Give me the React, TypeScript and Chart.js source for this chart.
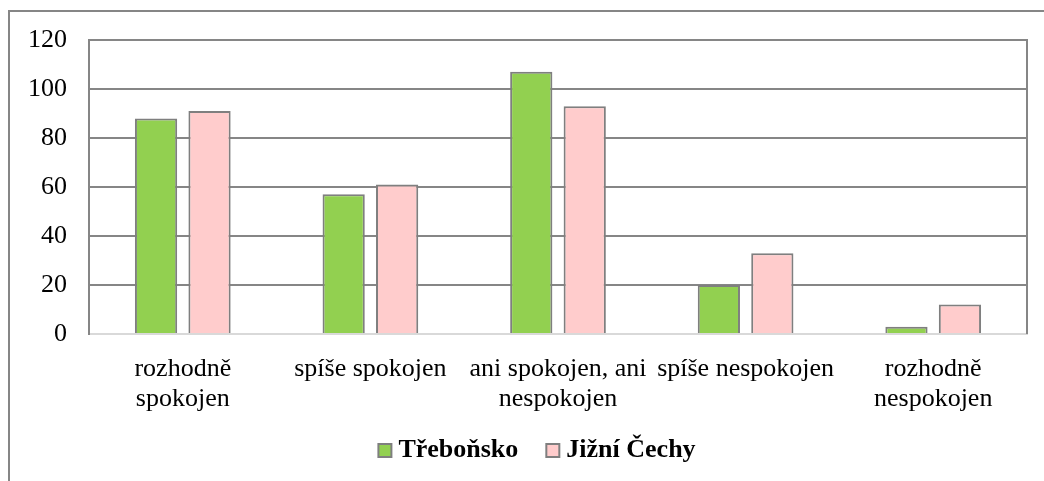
import React, { useEffect, useRef } from "react";
import { Chart, registerables } from "chart.js";

Chart.register(...registerables);

const categories: (string | string[])[] = [
  ["rozhodně", "spokojen"],
  "spíše spokojen",
  ["ani spokojen, ani", "nespokojen"],
  "spíše nespokojen",
  ["rozhodně", "nespokojen"],
];
const trebonskoValues = [88, 57, 107, 20, 3];
const jizniCechyValues = [91, 61, 93, 33, 12];
const seriesNames = ["Třeboňsko", "Jižní Čechy"];
const yTicks = [0, 20, 40, 60, 80, 100, 120];

const FONT = "Liberation Serif";
const GRID = "#868686";

const plotBorder = {
  id: "plotBorder",
  beforeDatasetsDraw(chart: any) {
    const { ctx, chartArea } = chart;
    ctx.save();
    ctx.strokeStyle = GRID;
    ctx.lineWidth = 2;
    ctx.beginPath();
    ctx.moveTo(chartArea.right, chartArea.top - 1);
    ctx.lineTo(chartArea.right, chartArea.bottom);
    ctx.stroke();
    ctx.restore();
  },
};

// Excel-like legend: small square, short gap, bold text, wide spacing between items
const excelLegend = {
  id: "excelLegend",
  afterDraw(chart: any, _args: any, opts: any) {
    const { ctx } = chart;
    const box = opts.box;
    const gap = opts.gap;
    const itemGap = opts.itemGap;
    ctx.save();
    ctx.font = `bold ${opts.fontSize}px '${FONT}'`;
    const items = chart.data.datasets.map((ds: any) => ({
      text: ds.label,
      fill: ds.backgroundColor,
      stroke: ds.borderColor,
      w: ctx.measureText(ds.label).width,
    }));
    const total =
      items.reduce((a: number, it: any) => a + box + gap + it.w, 0) + itemGap * (items.length - 1);
    let x = opts.centerX - total / 2;
    const baseline = opts.baseline;
    for (const it of items) {
      ctx.fillStyle = it.fill;
      ctx.fillRect(x, baseline - box, box, box);
      ctx.strokeStyle = it.stroke;
      ctx.lineWidth = 2;
      ctx.strokeRect(x, baseline - box, box, box);
      ctx.fillStyle = "#000";
      ctx.textBaseline = "alphabetic";
      ctx.textAlign = "left";
      ctx.fillText(it.text, x + box + gap, baseline);
      x += box + gap + it.w + itemGap;
    }
    ctx.restore();
  },
};

export default function App() {
  const ref = useRef<HTMLCanvasElement>(null);
  useEffect(() => {
    let chart: any = null;
    let cancelled = false;
    const build = () => {
      if (cancelled || !ref.current) return;
      chart = new Chart(ref.current, {
        type: "bar",
        data: {
          labels: categories,
          datasets: [
            {
              label: seriesNames[0],
              data: trebonskoValues,
              backgroundColor: "#92d050",
              borderColor: "#7f7f7f",
              borderWidth: 2,
              categoryPercentage: 0.57,
              barPercentage: 0.79,
            },
            {
              label: seriesNames[1],
              data: jizniCechyValues,
              backgroundColor: "#ffcccc",
              borderColor: "#7f7f7f",
              borderWidth: 2,
              categoryPercentage: 0.57,
              barPercentage: 0.79,
            },
          ],
        },
        options: {
          animation: false,
          responsive: false,
          devicePixelRatio: 1,
          layout: { padding: { left: 0, right: 17, top: 40, bottom: 57 } },
          plugins: {
            tooltip: { enabled: false },
            legend: { display: false },
            excelLegend: {
              box: 13,
              gap: 7,
              itemGap: 28,
              fontSize: 26,
              centerX: 537,
              baseline: 457,
            },
          } as any,
          scales: {
            x: {
              grid: { display: false },
              border: { display: true, color: "#d9d9d9", width: 2 },
              ticks: {
                color: "#000",
                font: { family: FONT, size: 26, lineHeight: 1.15 },
                padding: 12,
                maxRotation: 0,
                autoSkip: false,
              },
              afterFit: (s: any) => {
                s.height = 90;
              },
            },
            y: {
              min: 0,
              max: 120,
              afterBuildTicks: (s: any) => {
                s.ticks = yTicks.map((v) => ({ value: v }));
              },
              grid: {
                drawTicks: false,
                lineWidth: 2,
                color: (c: any) => (c.tick && c.tick.value === 0 ? "#d9d9d9" : GRID),
              },
              border: { display: true, color: GRID, width: 2 },
              ticks: {
                color: "#000",
                font: { family: FONT, size: 26 },
                padding: 22,
              },
              afterFit: (s: any) => {
                s.width = 89;
              },
            },
          },
        },
        plugins: [plotBorder, excelLegend],
      });
    };
    const fonts: any = (document as any).fonts;
    if (fonts && fonts.load) {
      Promise.all([
        fonts.load("26px 'Liberation Serif'", "Třeboňsko"),
        fonts.load("bold 26px 'Liberation Serif'", "Třeboňsko"),
      ])
        .catch(() => null)
        .then(build);
    } else {
      build();
    }
    return () => {
      cancelled = true;
      if (chart) chart.destroy();
    };
  }, []);
  return (
    <div style={{ position: "absolute", left: 0, top: 0, width: 1044, height: 481, background: "#fff" }}>
      <div
        style={{
          position: "absolute",
          left: 8,
          top: 10,
          width: 1036,
          height: 471,
          borderTop: `2px solid ${GRID}`,
          borderLeft: `2px solid ${GRID}`,
          boxSizing: "border-box",
        }}
      />
      <canvas ref={ref} width={1044} height={481} style={{ position: "absolute", left: 0, top: 0 }} />
    </div>
  );
}
